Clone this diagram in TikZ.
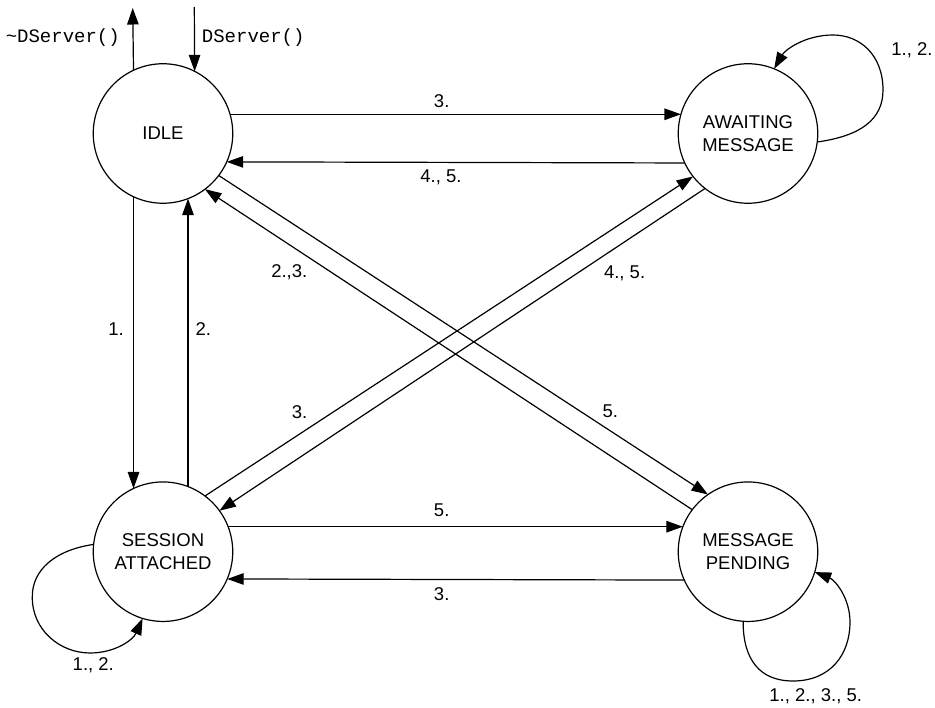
\documentclass[tikz,border=0pt]{standalone}
\usepackage{fontspec}
\setmainfont{Liberation Sans}
\newfontfamily\codefont{Liberation Mono}
\usetikzlibrary{arrows.meta}

\tikzset{
  state/.style={circle, draw, line width=1.2pt, minimum size=139.5pt,
    inner sep=0pt, outer sep=0pt, align=center,
    font=\fontsize{18.5}{23.5}\selectfont},
  trans/.style={line width=1.2pt, -{Triangle[length=16.5pt,width=11.5pt]}},
  lbl/.style={inner sep=0pt, font=\fontsize{18.5}{23.5}\selectfont},
  codelbl/.style={inner sep=0pt, font=\codefont\fontsize{19}{23}\selectfont},
}

\begin{document}
\begin{tikzpicture}[x=1pt,y=-1pt]
  \useasboundingbox (0,0) rectangle (935,708);

  % states
  \node[state] (idle)  at (163,133.5) {IDLE};
  \node[state] (await) at (748,133.5) {AWAITING\\MESSAGE};
  \node[state] (sess)  at (163,551.7) {SESSION\\ATTACHED};
  \node[state] (pend)  at (748,551.7) {MESSAGE\\PENDING};

  % constructor / destructor
  \coordinate (dtor) at (132.7,8);
  \coordinate (ctor) at (194.3,7);
  \draw[trans] (idle.115.7) -- (dtor);
  \draw[trans] (ctor) -- (idle.63.3);
  \node[codelbl, anchor=east] (dtorlbl) at (120,37.7) {\textasciitilde DServer()};
  \node[codelbl, anchor=west] (ctorlbl) at (201.7,37.7) {DServer()};

  % horizontal transitions
  \draw[trans] (idle.16) -- (await.164);
  \draw[trans] (await.-155.2) -- (idle.-24.8);
  \draw[trans] (sess.21) -- (pend.159);
  \draw[trans] (pend.-156.7) -- (sess.-23.3);
  \node[lbl] (l1) at (441.7,100.7) {3.};
  \node[lbl] (l2) at (441,177.3) {4., 5.};
  \node[lbl] (l3) at (441.7,510) {5.};
  \node[lbl] (l4) at (441.7,594.3) {3.};

  % vertical transitions
  \draw[trans] (idle.-115.9) -- (sess.115.9);
  \draw[trans] (sess.69) -- (idle.-69);
  \node[lbl] (l5) at (116,329.3) {1.};
  \node[lbl] (l6) at (203.3,329.3) {2.};

  % diagonal transitions
  \draw[trans] (idle.-37.5) -- (pend.125.3);
  \draw[trans] (pend.143.5) -- (idle.-53);
  \draw[trans] (sess.53) -- (await.218.4);
  \draw[trans] (await.232.5) -- (sess.36);
  \node[lbl] (l7) at (289.3,272.3) {2.,3.};
  \node[lbl] (l8) at (624.6,273.3) {4., 5.};
  \node[lbl] (l9) at (299.6,411.7) {3.};
  \node[lbl] (l10) at (610.4,411.7) {5.};

  % self loops
  \draw[trans] (await.-7)
     .. controls (860,136) and (883,120) .. (883,90)
     .. controls (883,55) and (860,35) .. (833,35)
     .. controls (805,35) and (785,50) .. (await.68);
  \node[lbl] (l11) at (912,50) {1., 2.};

  \draw[trans] (sess.174.5)
     .. controls (55,550) and (32,570) .. (32.3,597)
     .. controls (32,630) and (60,653) .. (90,653)
     .. controls (115,653) and (133,640) .. (sess.253.5);
  \node[lbl] (l12) at (93.3,665) {1., 2.};

  \draw[trans] (pend.266)
     .. controls (743,660) and (760,681) .. (793,681)
     .. controls (830,681) and (850,655) .. (850,622)
     .. controls (850,598) and (835,580) .. (pend.-17.4);
  \node[lbl] (l13) at (815.7,696.7) {1., 2., 3., 5.};
\end{tikzpicture}
\end{document}
